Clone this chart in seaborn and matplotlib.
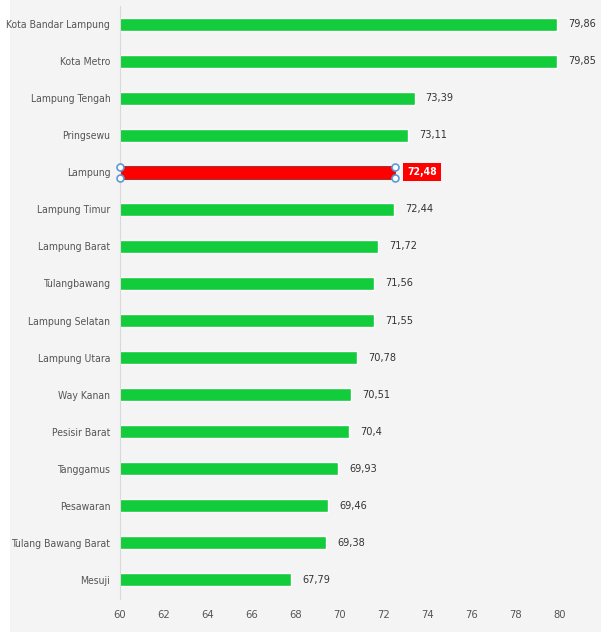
import matplotlib
matplotlib.use("Agg")
import matplotlib.pyplot as plt
import seaborn as sns
import pandas as pd
from matplotlib.patches import Rectangle
from matplotlib import font_manager

regions = ["Kota Bandar Lampung", "Kota Metro", "Lampung Tengah", "Pringsewu", "Lampung",
           "Lampung Timur", "Lampung Barat", "Tulangbawang", "Lampung Selatan", "Lampung Utara",
           "Way Kanan", "Pesisir Barat", "Tanggamus", "Pesawaran", "Tulang Bawang Barat", "Mesuji"]
values = [79.86, 79.85, 73.39, 73.11, 72.48, 72.44, 71.72, 71.56, 71.55, 70.78,
          70.51, 70.4, 69.93, 69.46, 69.38, 67.79]
value_labels = ["79,86", "79,85", "73,39", "73,11", "72,48", "72,44", "71,72", "71,56", "71,55",
                "70,78", "70,51", "70,4", "69,93", "69,46", "69,38", "67,79"]
highlight = "Lampung"
x_ticks = [60, 62, 64, 66, 68, 70, 72, 74, 76, 78, 80]

sns.set_theme(style="white")
names = sorted({f.name for f in font_manager.fontManager.ttflist})
if "Liberation Sans Narrow" in names:
    fam = "Liberation Sans Narrow"
elif "DejaVu Sans Condensed" in names:
    fam = "DejaVu Sans Condensed"
else:
    fam = "DejaVu Sans"
plt.rcParams["font.family"] = [fam, "DejaVu Sans"]
plt.rcParams["font.stretch"] = "condensed"

GREEN = "#12cc3c"
RED = "#ff0000"
BG = "#f4f4f4"
FS = 7.5

df = pd.DataFrame({"region": regions, "value": values,
                   "kind": ["hl" if r == highlight else "base" for r in regions]})

fig = plt.figure(figsize=(6.01, 6.39), dpi=100, facecolor="white")
fig.patches.append(Rectangle((10 / 601, 7 / 639), 1 - 10 / 601, 1 - 7 / 639,
                             transform=fig.transFigure, facecolor=BG, edgecolor="none", zorder=-10))
ax = fig.add_axes([120 / 601, 1 - 598.5 / 639, 440 / 601, (598.5 - 5.5) / 639])
ax.patch.set_alpha(0)

sns.barplot(data=df, y="region", x="value", hue="kind", palette={"base": GREEN, "hl": RED},
            orient="h", width=0.35, dodge=False, legend=False, ax=ax, saturation=1)

for p in ax.patches:
    if p.get_facecolor()[1] < 0.1:
        p.set_edgecolor("#8a2a2a")
        p.set_linewidth(0.6)

ax.set_xlim(60, 80)
ax.set_ylim(len(regions) - 0.5, -0.5)
ax.set_xticks(x_ticks)
ax.set_xticklabels([str(t) for t in x_ticks])
ax.set_xlabel("")
ax.set_ylabel("")
for s in ["top", "right", "bottom"]:
    ax.spines[s].set_visible(False)
ax.spines["left"].set_color("#d9d9d9")
ax.spines["left"].set_linewidth(0.8)
ax.tick_params(axis="both", length=0, colors="#555555")
ax.tick_params(axis="y", pad=7, labelsize=FS)
ax.tick_params(axis="x", pad=8, labelsize=8)

for i, (r, v, lab) in enumerate(zip(regions, values, value_labels)):
    if r == highlight:
        ax.annotate(lab, (v, i), xytext=(9, 0), textcoords="offset points", va="center", ha="left",
                    color="white", fontsize=FS, fontweight="bold", annotation_clip=False,
                    bbox=dict(boxstyle="square,pad=0.4", facecolor=RED, edgecolor="none"))
        for xx in (60, v):
            for dy in (-0.15, 0.15):
                ax.plot(xx, i + dy, marker="o", ms=5, mfc="white", mec="#5b9bd5", mew=1.2,
                        clip_on=False, zorder=5)
    else:
        ax.annotate(lab, (v, i), xytext=(8, 0), textcoords="offset points", va="center", ha="left",
                    color="#333333", fontsize=7.8, annotation_clip=False)

fig.savefig("out.png", dpi=100, facecolor="white")
